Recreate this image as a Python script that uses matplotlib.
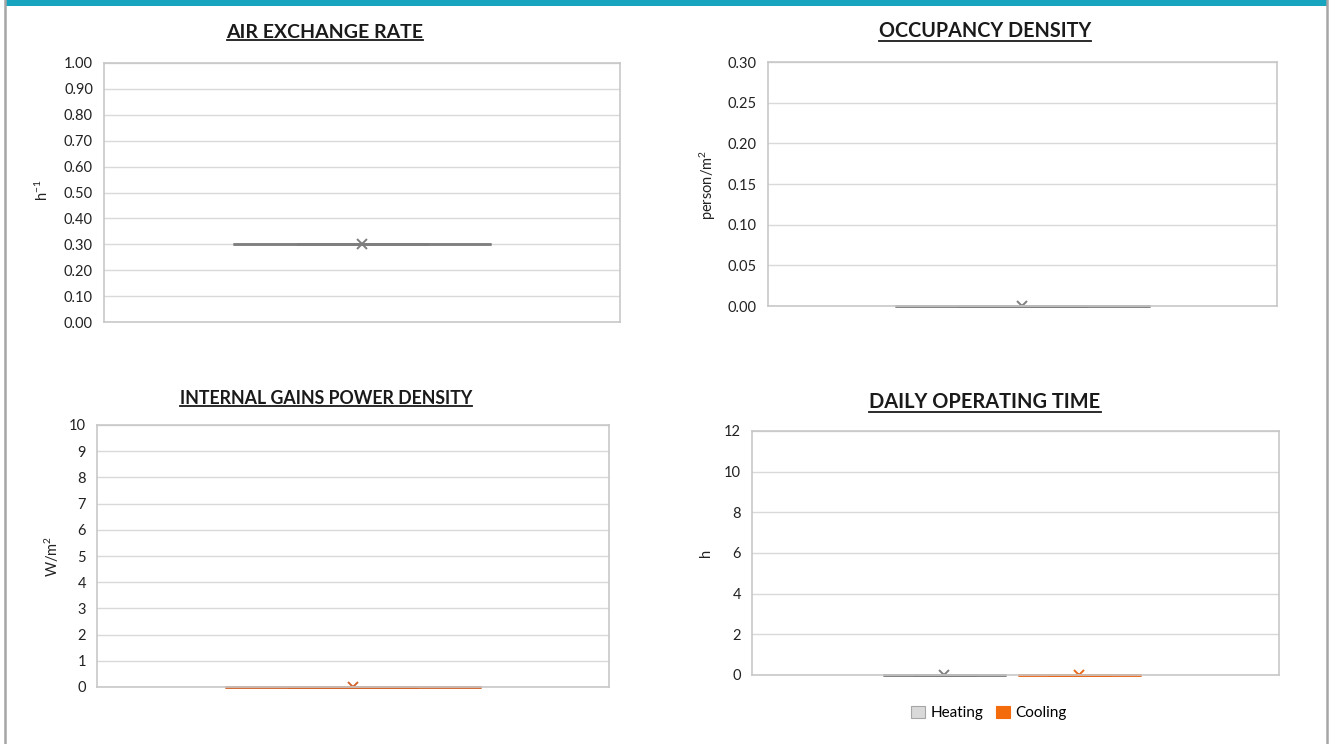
import matplotlib
matplotlib.use("Agg")
import matplotlib.pyplot as plt
from matplotlib.patches import Patch
from matplotlib.lines import Line2D

plt.rcParams['font.family'] = ['Lato', 'DejaVu Sans']
plt.rcParams['mathtext.fontset'] = 'custom'
plt.rcParams['mathtext.rm'] = 'Lato'
plt.rcParams['mathtext.it'] = 'Lato'

# ---- data ----
air_exchange_rate = [0.30, 0.30, 0.30, 0.30]
occupancy_density = [0.0, 0.0, 0.0, 0.0]
internal_gains = [0.0, 0.0, 0.0, 0.0]
operating_heating = [0.0, 0.0, 0.0, 0.0]
operating_cooling = [0.0, 0.0, 0.0, 0.0]

air_ticks = [0.0, 0.1, 0.2, 0.3, 0.4, 0.5, 0.6, 0.7, 0.8, 0.9, 1.0]
occ_ticks = [0.0, 0.05, 0.10, 0.15, 0.20, 0.25, 0.30]
gain_ticks = [0, 1, 2, 3, 4, 5, 6, 7, 8, 9, 10]
time_ticks = [0, 2, 4, 6, 8, 10, 12]

titles = ["AIR EXCHANGE RATE", "OCCUPANCY DENSITY",
          "INTERNAL GAINS POWER DENSITY", "DAILY OPERATING TIME"]
ylabels = ["h$^{-1}$", "person/m$^2$", "W/m$^2$", "h"]
legend_labels = ["Heating", "Cooling"]

W, H = 1333, 744
fig = plt.figure(figsize=(W / 100, H / 100), dpi=100)
fig.patch.set_facecolor('white')

def px_axes(l, t, r, b):
    return fig.add_axes([l / W, 1 - b / H, (r - l) / W, (b - t) / H])

GRID = '#d9d9d9'
SPINE = '#c8c8c8'
GREY = '#7f7f7f'
ORANGE = '#d2652c'
ORANGE2 = '#e8691c'

def style(ax, ticks, fmt):
    ax.set_ylim(ticks[0], ticks[-1])
    ax.set_yticks(ticks)
    ax.set_yticklabels([fmt.format(t) for t in ticks])
    ax.set_xlim(0, 1)
    ax.set_xticks([])
    ax.grid(axis='y', color=GRID, linewidth=1.0)
    ax.set_axisbelow(True)
    for s in ax.spines.values():
        s.set_color(SPINE)
        s.set_linewidth(1.2)
    ax.tick_params(axis='y', length=0, pad=8, labelsize=10.5, labelcolor='#222222')

def box(ax, data, pos, width, color):
    res = ax.boxplot([data], positions=[pos], widths=width, patch_artist=True,
                     showmeans=True, showfliers=False,
                     boxprops=dict(facecolor=color, edgecolor=color, linewidth=1.8),
                     medianprops=dict(color=color, linewidth=1.8),
                     whiskerprops=dict(color=color, linewidth=1.8),
                     capprops=dict(color=color, linewidth=1.8),
                     meanprops=dict(marker='x', markeredgecolor=color, markersize=7,
                                    markeredgewidth=1.4))
    for key in ('boxes', 'medians', 'whiskers', 'caps'):
        for art in res[key]:
            art.set_clip_on(False)
    ax.set_xlim(0, 1)
    ax.set_xticks([])

# Panel 1
ax1 = px_axes(104, 63, 620, 322)
style(ax1, air_ticks, "{:.2f}")
box(ax1, air_exchange_rate, 0.5, 0.5, GREY)

# Panel 2
ax2 = px_axes(768, 62, 1277, 306)
style(ax2, occ_ticks, "{:.2f}")
box(ax2, occupancy_density, 0.5, 0.5, GREY)

# Panel 3
ax3 = px_axes(97, 425, 609, 687)
style(ax3, gain_ticks, "{:d}")
box(ax3, internal_gains, 0.5, 0.5, ORANGE)

# Panel 4
ax4 = px_axes(752, 431, 1279, 675)
style(ax4, time_ticks, "{:d}")
box(ax4, operating_heating, 0.365, 0.233, GREY)
box(ax4, operating_cooling, 0.621, 0.233, ORANGE2)

# Y labels
ylab_pos = [(42, 190), (708, 185), (52, 556), (706, 553)]
for lab, (x, y) in zip(ylabels, ylab_pos):
    fig.text(x / W, 1 - y / H, lab, rotation=90, ha='center', va='center',
             fontsize=10.5, color='#222222')

# Titles with underline
title_pos = [(325, 32, 14.0), (985, 31, 14.2), (326, 398, 12.8), (985, 402, 14.4)]
fig.canvas.draw()
renderer = fig.canvas.get_renderer()
for t, (x, y, fs) in zip(titles, title_pos):
    txt = fig.text(x / W, 1 - y / H, t, ha='center', va='center',
                   fontsize=fs, fontweight='bold', color='#1a1a1a')
    bb = txt.get_window_extent(renderer=renderer)
    uy = bb.y0 + 0.5
    fig.add_artist(Line2D([bb.x0 / W, bb.x1 / W], [uy / H, uy / H],
                          color='#1a1a1a', linewidth=1.3))

# Legend
handles = [Patch(facecolor='#d9d9d9', edgecolor='#a6a6a6', linewidth=0.8),
           Patch(facecolor='#f46b0c', edgecolor='#f46b0c', linewidth=0.8)]
fig.legend(handles, legend_labels, loc='center', bbox_to_anchor=(989 / W, 1 - 713 / H),
           ncol=2, frameon=False, fontsize=11, handlelength=0.9, handleheight=0.9,
           handletextpad=0.4, columnspacing=0.8)

# Page frame: teal top bar and grey side borders
fig.add_artist(plt.Rectangle((6 / W, 1 - 6 / H), (1327 - 6) / W, 6 / H,
                             transform=fig.transFigure, color='#17a4bf', linewidth=0))
fig.add_artist(Line2D([5 / W, 5 / W], [0, 1], color='#a6a6a6', linewidth=1.8))
fig.add_artist(Line2D([1327 / W, 1327 / W], [0, 1], color='#a6a6a6', linewidth=1.8))

fig.savefig("out.png", dpi=100, facecolor='white')
